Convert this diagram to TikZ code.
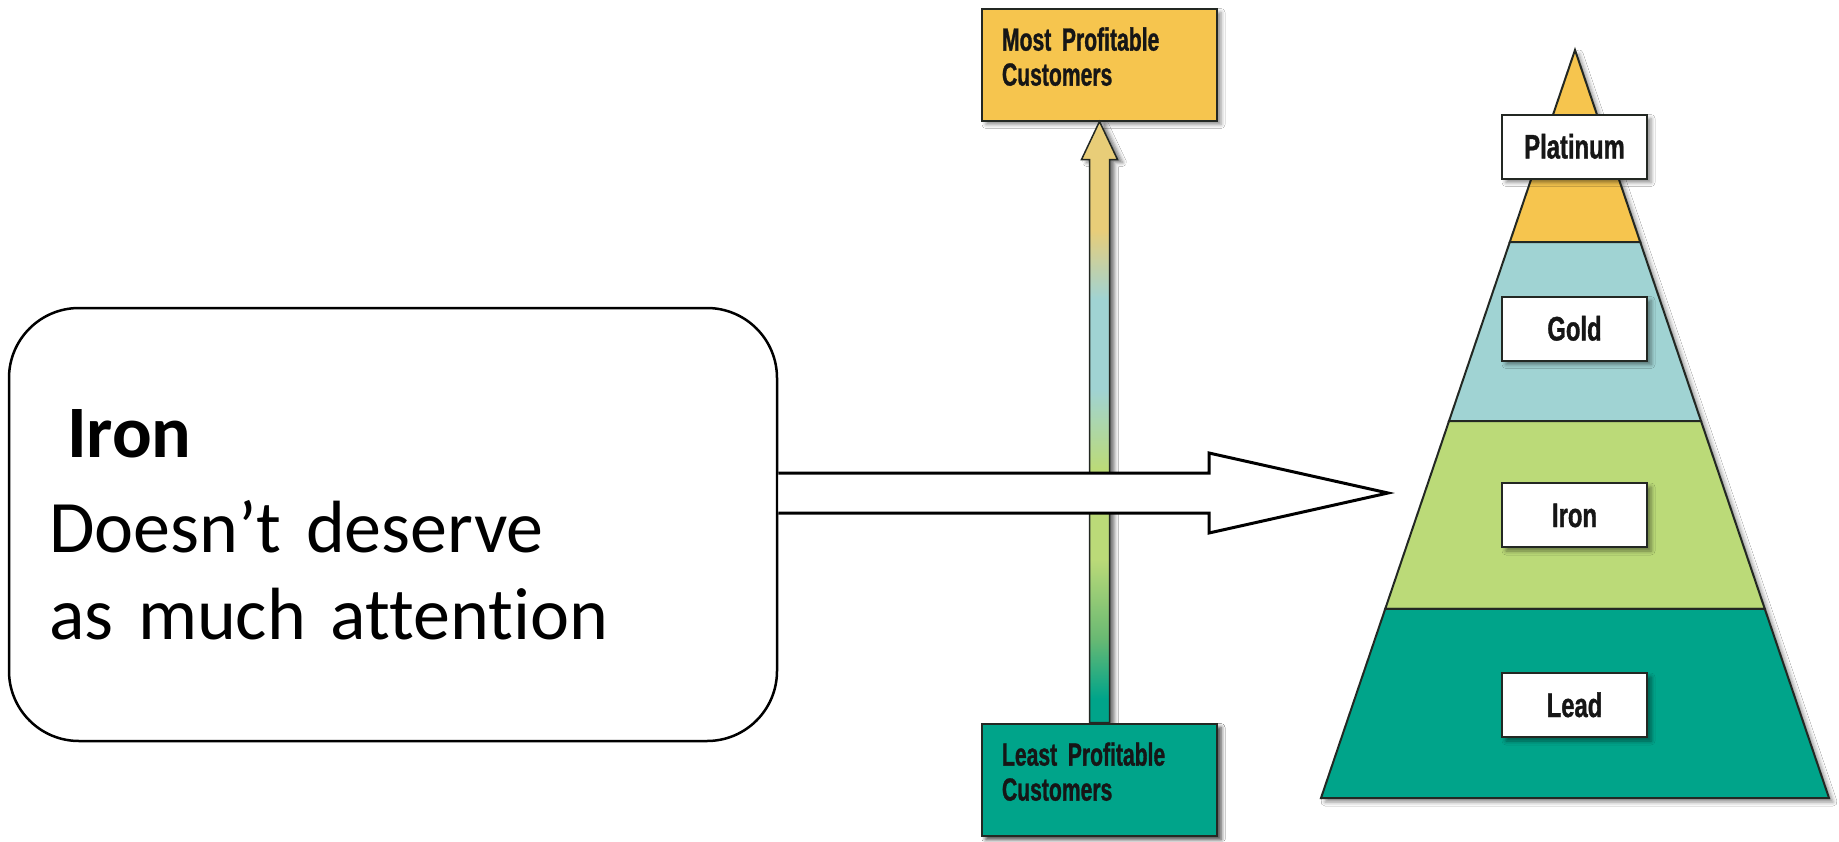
\documentclass[tikz,border=0pt]{standalone}
\usepackage{fontspec}
\setmainfont{Carlito}[Ligatures=NoCommon, WordSpace=0.85]
\newfontfamily\condfont[FakeStretch=0.66,FakeBold=1]{Liberation Sans}
\newfontfamily\tierfont[FakeStretch=0.70,FakeBold=1]{Liberation Sans}
\usetikzlibrary{calc,shadows.blur}

\definecolor{tierYellow}{RGB}{246,197,78}
\definecolor{tierBlue}{RGB}{160,211,211}
\definecolor{tierGreen}{RGB}{187,218,120}
\definecolor{tierTeal}{RGB}{0,164,138}
\definecolor{edgeDark}{RGB}{35,40,35}
\definecolor{arrowTan}{RGB}{232,205,120}
\definecolor{arrowMid}{RGB}{105,185,115}
\definecolor{textDark}{RGB}{22,22,22}

% bottom (teal) to top (tan); the path's box maps onto 25bp..75bp
\pgfdeclareverticalshading{profitgrad}{100bp}{%
  color(0bp)=(tierTeal); color(27bp)=(tierTeal);
  color(32bp)=(arrowMid); color(38.6bp)=(tierGreen);
  color(46.1bp)=(tierGreen); color(52.7bp)=(tierBlue);
  color(60.2bp)=(tierBlue); color(66bp)=(arrowTan);
  color(100bp)=(arrowTan)}

\tikzset{
  softshadow/.style={blur shadow={shadow xshift=4pt, shadow yshift=-4pt,
      shadow blur radius=4pt, shadow opacity=45}},
  infobox/.style={draw=edgeDark, line width=2pt, minimum height=112pt,
      text width=195pt, inner xsep=20pt, inner ysep=0pt, align=left,
      text depth=51pt, text=textDark,
      font=\condfont\bfseries\fontsize{32}{35}\selectfont, softshadow},
  tierlabel/.style={draw=edgeDark, fill=white, line width=2pt,
      minimum width=145pt, minimum height=64pt, inner sep=0pt,
      text height=24pt, text depth=0pt, text=textDark,
      font=\tierfont\bfseries\fontsize{34}{34}\selectfont, softshadow},
  tierband/.style={draw=edgeDark, line width=2pt, line join=miter},
  notebox/.style={draw=black, line width=2.5pt, rounded corners=70pt,
      minimum height=433pt, text width=688pt, inner xsep=40pt,
      inner ysep=0pt, align=left,
      font=\fontsize{74}{87}\selectfont},
  blockarrow/.style={draw=black, fill=white, line width=3pt, line join=miter}
}

\begin{document}
\begin{tikzpicture}[x=1pt, y=-1pt]
  \fill[white] (0,0) rectangle (1839,841);
  \useasboundingbox (0,0) rectangle (1839,841);

  % ---- pyramid of customer tiers ----
  \coordinate (apex) at (1575,50);
  \coordinate (bl) at (1321,798);
  \coordinate (br) at (1829,798);
  \coordinate (p1l) at ($(apex)!0.2567!(bl)$);
  \coordinate (p1r) at ($(apex)!0.2567!(br)$);
  \coordinate (p2l) at ($(apex)!0.4960!(bl)$);
  \coordinate (p2r) at ($(apex)!0.4960!(br)$);
  \coordinate (p3l) at ($(apex)!0.7473!(bl)$);
  \coordinate (p3r) at ($(apex)!0.7473!(br)$);

  \path[fill=white, softshadow] (apex) -- (br) -- (bl) -- cycle;
  \filldraw[tierband, fill=tierYellow] (apex) -- (p1r) -- (p1l) -- cycle;
  \filldraw[tierband, fill=tierBlue] (p1l) -- (p1r) -- (p2r) -- (p2l) -- cycle;
  \filldraw[tierband, fill=tierGreen] (p2l) -- (p2r) -- (p3r) -- (p3l) -- cycle;
  \filldraw[tierband, fill=tierTeal] (p3l) -- (p3r) -- (br) -- (bl) -- cycle;

  \node[tierlabel] (platinum) at (1574.5,146.5) {Platinum};
  \node[tierlabel] (gold)     at (1574.5,328.5) {Gold};
  \node[tierlabel] (iron)     at (1574.5,515)   {Iron};
  \node[tierlabel] (lead)     at (1574.5,705)   {Lead};

  % ---- profitability scale ----
  \node[infobox, fill=tierYellow] (most) at (1099.5,64.5)
    {Most Profitable\\Customers};
  \node[infobox, fill=tierTeal, draw=none] (leastspot) at (1099.5,779.5) {};
  \coordinate (vt) at (most.south);
  \coordinate (vb) at (leastspot.north);
  \shadedraw[shading=profitgrad, draw=edgeDark, line width=1.5pt,
      blur shadow={shadow xshift=5pt, shadow yshift=-3pt,
      shadow blur radius=4pt, shadow opacity=55}]
    ($(vb)+(-10,0)$) -- ($(vt)+(-10,38)$) -- ($(vt)+(-18,38)$) -- (vt)
    -- ($(vt)+(18,38)$) -- ($(vt)+(10,38)$) -- ($(vb)+(10,0)$) -- cycle;
  \node[infobox, fill=tierTeal] (least) at (1099.5,779.5)
    {Least Profitable\\Customers};

  % ---- note on the Iron tier ----
  \node[notebox] (note) at (393,524.5)
    {{\bfseries\hspace*{18pt}Iron}\\[8pt]
     Doesn’t deserve\\
     as much attention};
  \coordinate (tip) at (1388,493);
  \coordinate (hs) at (note.east |- tip);
  \filldraw[blockarrow]
    ($(hs)+(0,-20)$) -- ($(tip)+(-179,-20)$) -- ($(tip)+(-179,-40)$)
    -- (tip) -- ($(tip)+(-179,40)$) -- ($(tip)+(-179,20)$)
    -- ($(hs)+(0,20)$);
\end{tikzpicture}
\end{document}
